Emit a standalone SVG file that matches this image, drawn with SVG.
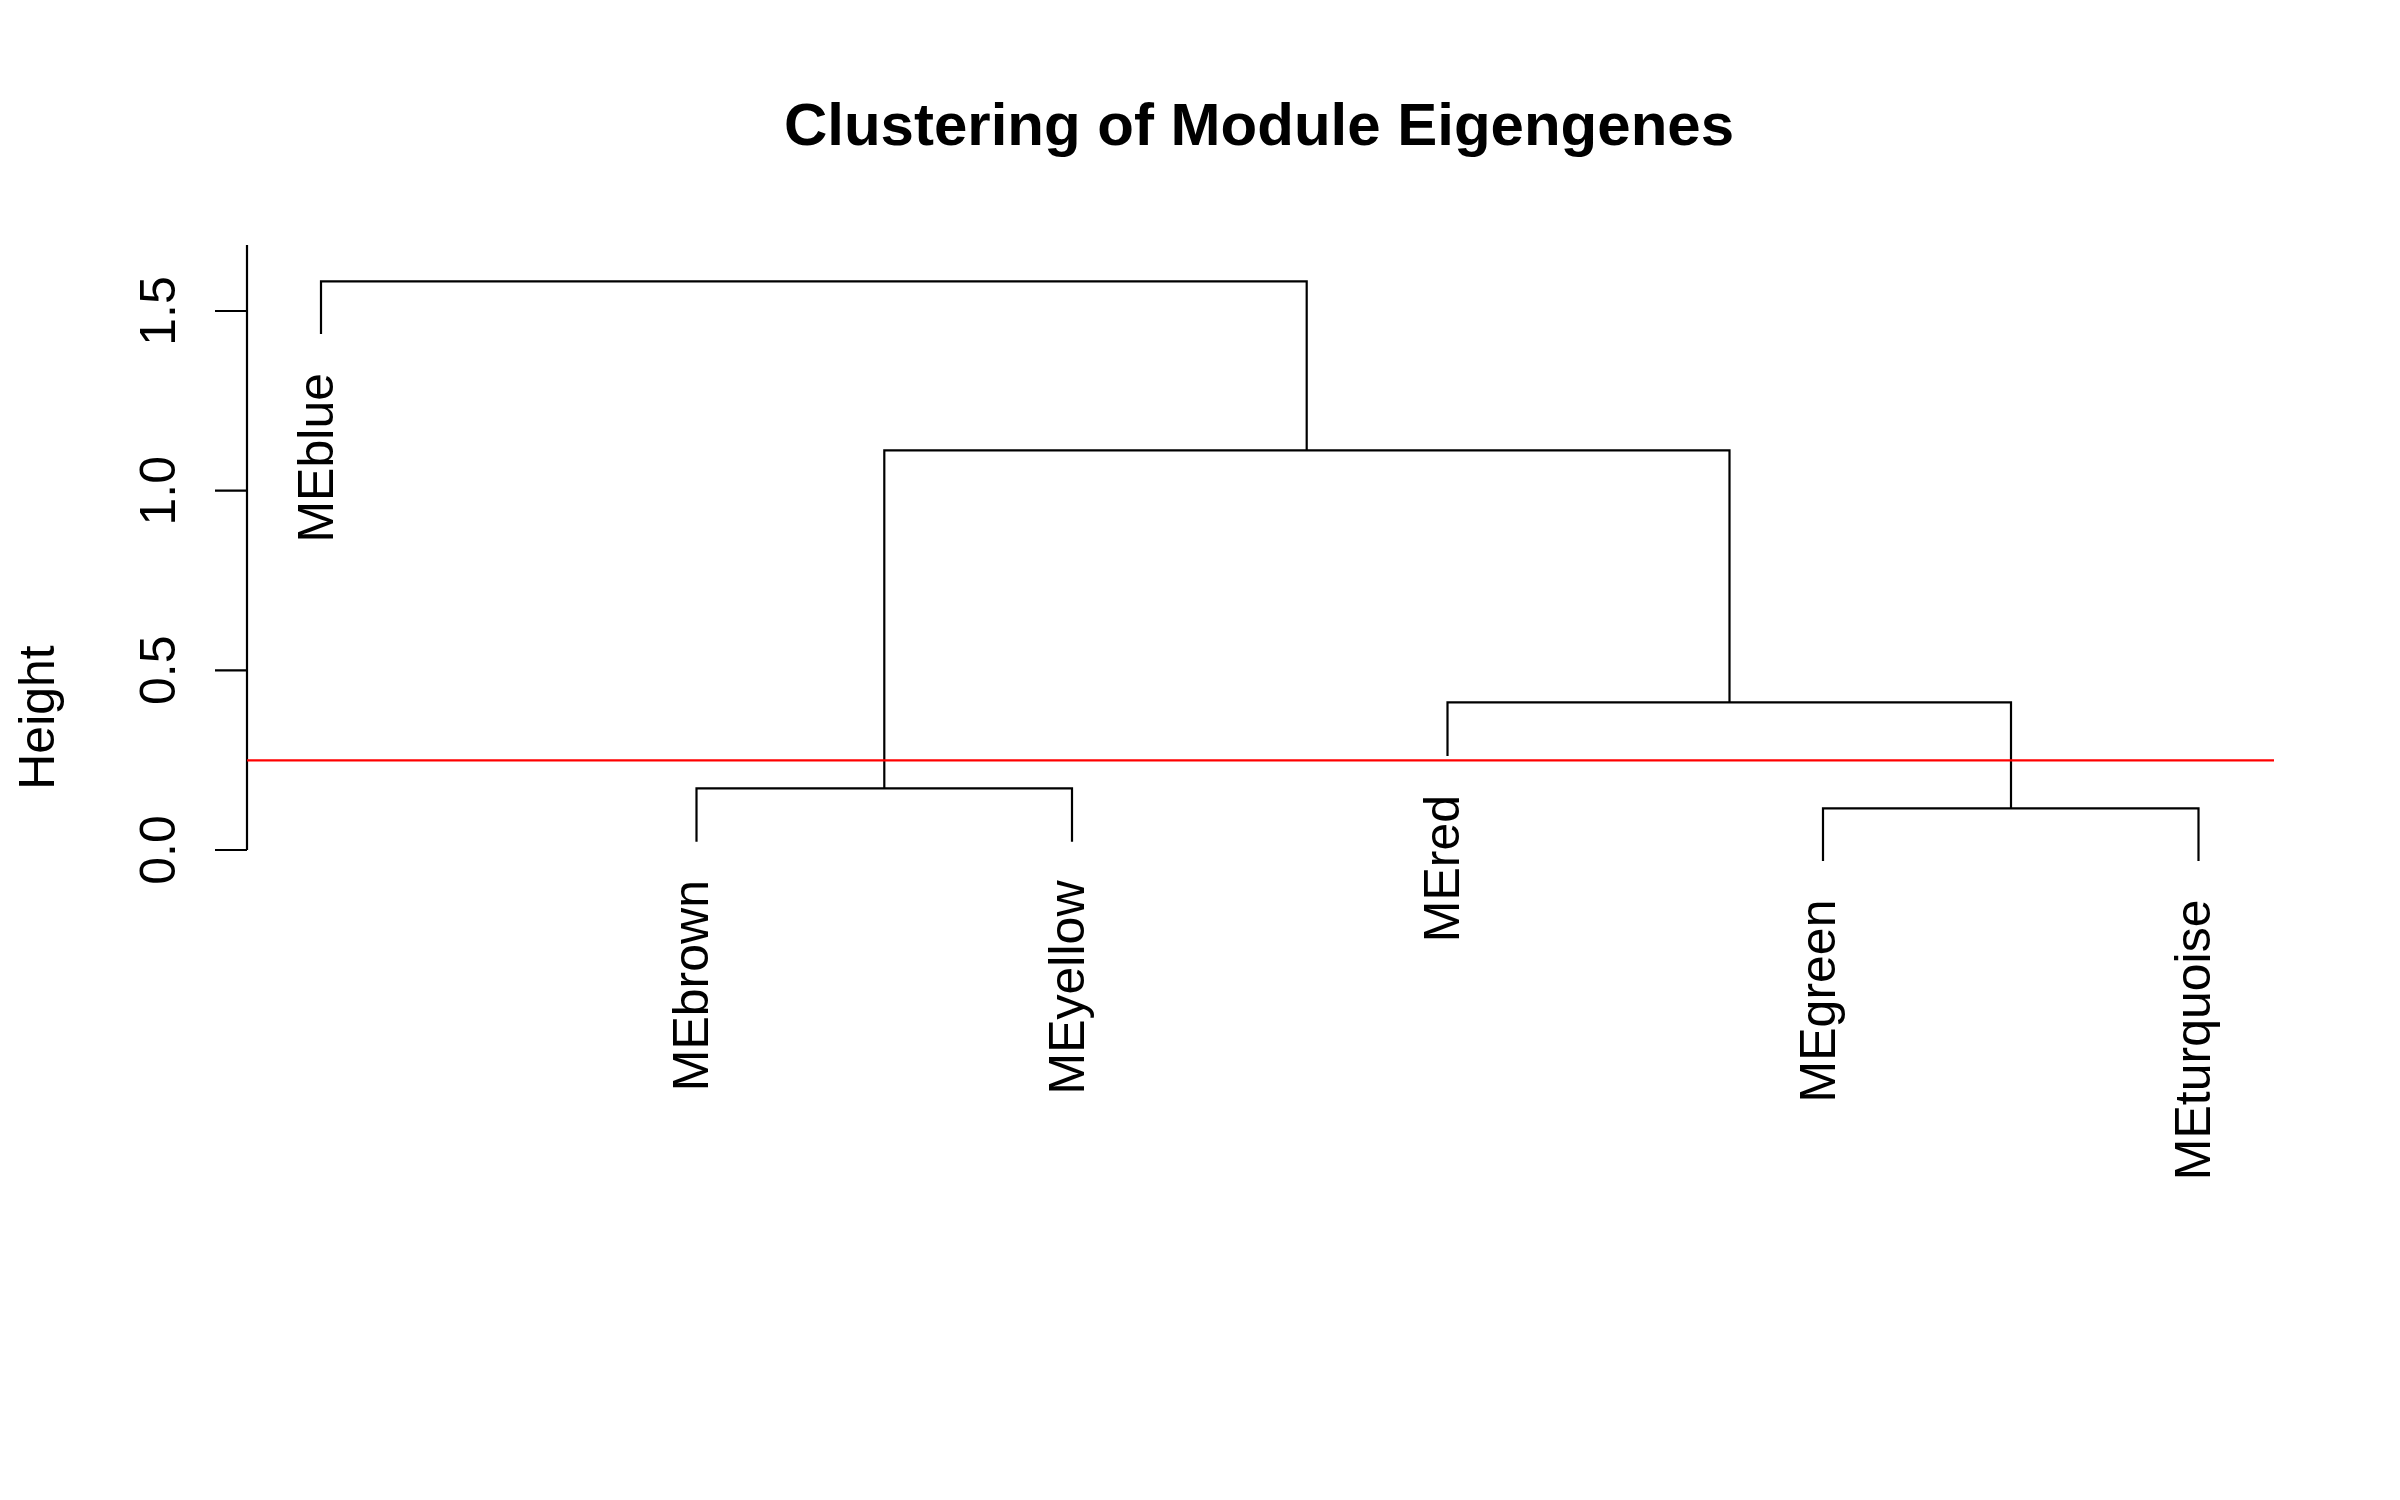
<svg xmlns="http://www.w3.org/2000/svg" width="2400" height="1500" viewBox="0 0 2400 1500">
<style>
  text { font-family: "Liberation Sans", Arial, sans-serif; fill: #000; }
  .title { font-size: 60px; font-weight: bold; }
  .lab { font-size: 50px; }
  .ax { font-size: 50px; }
  .ln { fill: none; stroke: #000; stroke-width: 2.2; }
  .cut { fill: none; stroke: #ff0000; stroke-width: 2.2; }
</style>
<rect x="0" y="0" width="2400" height="1500" fill="#fff"/>
<text class="title" x="1259" y="145" text-anchor="middle">Clustering of Module Eigengenes</text>
<g id="y-axis">
  <path class="ln" d="M247,245 V850 M215,850 H247 M215,670.3 H247 M215,490.7 H247 M215,311 H247"/>
  <text class="ax" transform="translate(175,850) rotate(-90)" text-anchor="middle">0.0</text>
  <text class="ax" transform="translate(175,670.3) rotate(-90)" text-anchor="middle">0.5</text>
  <text class="ax" transform="translate(175,490.7) rotate(-90)" text-anchor="middle">1.0</text>
  <text class="ax" transform="translate(175,311) rotate(-90)" text-anchor="middle">1.5</text>
  <text class="ax" transform="translate(54,717.5) rotate(-90)" text-anchor="middle">Height</text>
</g>
<g id="connectors">
  <path class="ln" d="M321,334 V281.3 H1306.7 V450.3"/>
  <path class="ln" d="M884.3,788.3 V450.3 H1729.5 V702.3"/>
  <path class="ln" d="M1447.5,756 V702.3 H2011 V808.3"/>
  <path class="ln" d="M1823,861 V808.3 H2198.5 V861"/>
  <path class="ln" d="M696.5,841.7 V788.3 H1072 V841.7"/>
</g>
<g id="cut-line">
  <path class="cut" d="M247,760.3 H2274"/>
</g>
<g id="MEblue"><text class="lab" transform="translate(333,373) rotate(-90)" text-anchor="end">MEblue</text></g>
<g id="MEbrown"><text class="lab" transform="translate(708,880) rotate(-90)" text-anchor="end">MEbrown</text></g>
<g id="MEyellow"><text class="lab" transform="translate(1083.5,880.5) rotate(-90)" text-anchor="end">MEyellow</text></g>
<g id="MEred"><text class="lab" transform="translate(1459,795) rotate(-90)" text-anchor="end">MEred</text></g>
<g id="MEgreen"><text class="lab" transform="translate(1835,899.5) rotate(-90)" text-anchor="end">MEgreen</text></g>
<g id="MEturquoise"><text class="lab" transform="translate(2210,899.5) rotate(-90)" text-anchor="end">MEturquoise</text></g>
</svg>
